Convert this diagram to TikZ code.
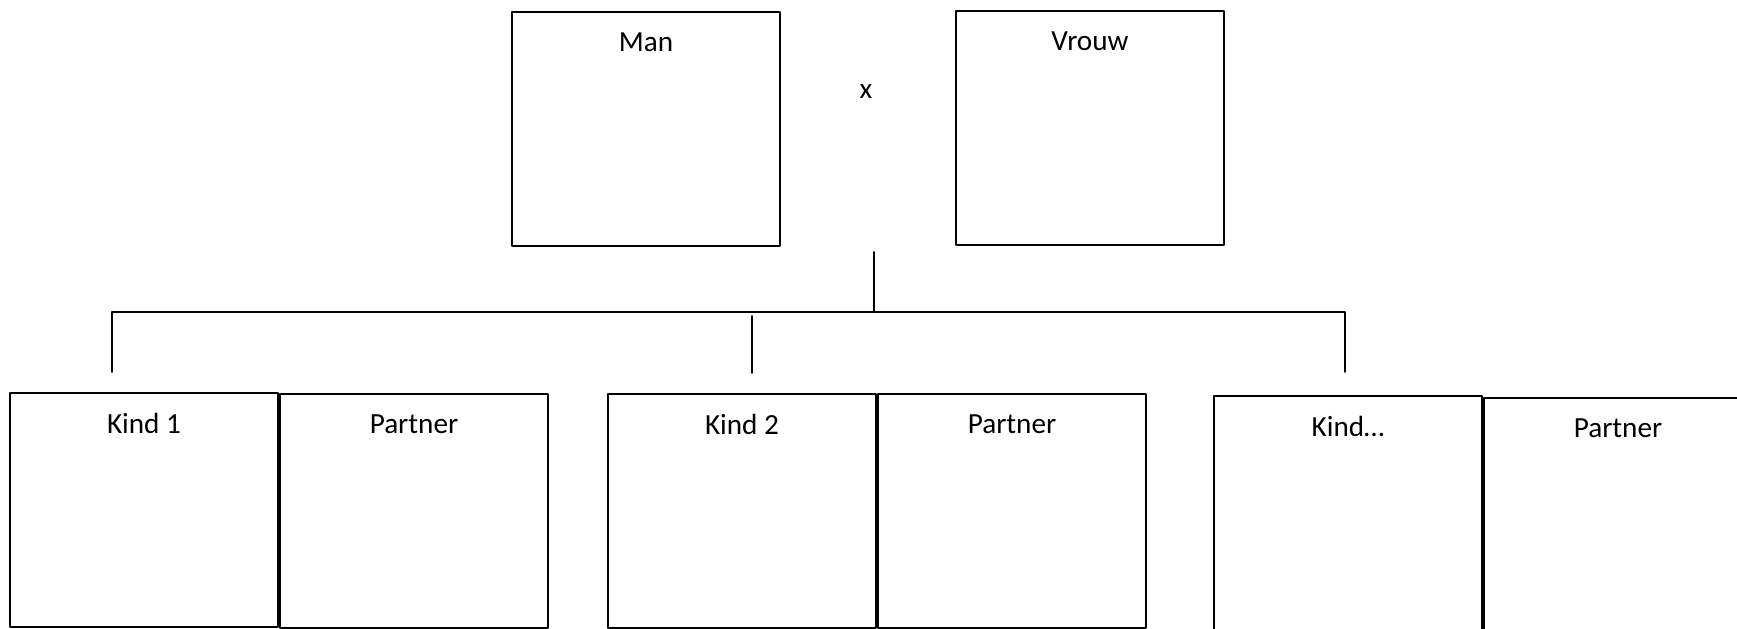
\documentclass[tikz,border=0pt]{standalone}
\usepackage{fontspec}
\setmainfont{Carlito}

\begin{document}
\begin{tikzpicture}[x=0.5pt,y=-0.5pt,line cap=round,line join=round,
  persoon/.style={draw,line width=0.9pt,inner sep=0pt,
    minimum width=134pt,minimum height=117pt,
    label={[anchor=center,yshift=-15.5pt,font=\fontsize{14.6}{17}\selectfont]north:#1}},
  tak/.style={line width=0.9pt}]
  \useasboundingbox (0,0) rectangle (1737,628);
  \clip (0,0) rectangle (1737,628);
  % ouders
  \node[persoon=Man] (man) at (646,129) {};
  \node[persoon=Vrouw] (vrouw) at (1090,128) {};
  \node[font=\fontsize{14.6}{17}\selectfont] (kruis) at (866,92) {x};
  % kinderen met partner
  \node[persoon=Kind 1] (kind1) at (144,510) {};
  \node[persoon=Partner] (partner1) at (414,511) {};
  \node[persoon=Kind 2] (kind2) at (742,511) {};
  \node[persoon=Partner] (partner2) at (1012,511) {};
  \node[persoon=Kind…] (kind3) at (1348,513) {};
  \node[persoon=Partner] (partner3) at (1618,515) {};
  % lijnen
  \coordinate (stam) at (874,252);
  \coordinate (tak midden) at (874,312);
  \coordinate (tak links) at (112,312);
  \coordinate (tak rechts) at (1345,312);
  \coordinate (eind1) at (112,372);
  \coordinate (begin2) at (752,316);
  \coordinate (eind2) at (752,373);
  \coordinate (eind3) at (1345,372);
  \draw[tak] (stam) -- (tak midden);
  \draw[tak] (eind1) -- (tak links) -- (tak rechts) -- (eind3);
  \draw[tak] (begin2) -- (eind2);
\end{tikzpicture}
\end{document}
